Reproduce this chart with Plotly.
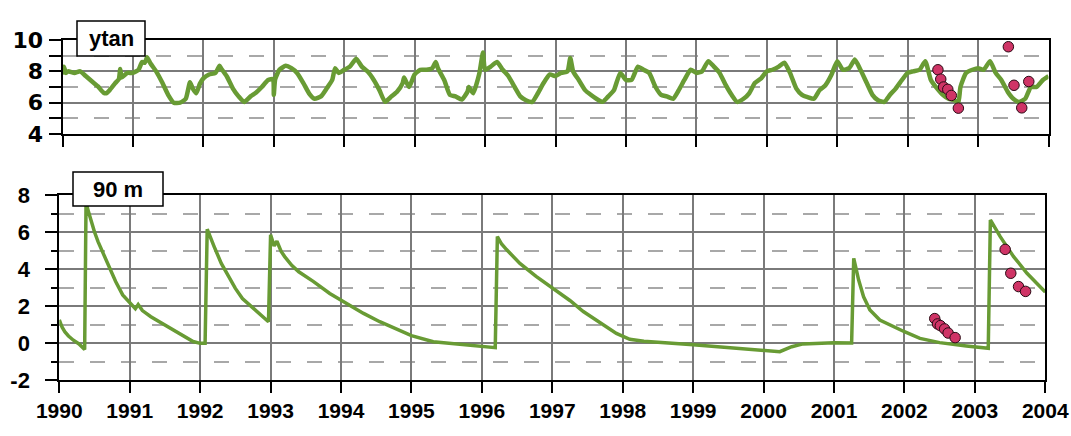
import plotly.graph_objects as go

# ---------------- data ----------------
years = [1990, 1991, 1992, 1993, 1994, 1995, 1996, 1997, 1998, 1999, 2000, 2001, 2002, 2003, 2004]
year_labels = [str(y) for y in years]

top_yticks = [4, 6, 8, 10]
top_ytext = ["4", "6", "8", "10"]
bot_yticks = [-2, 0, 2, 4, 6, 8]
bot_ytext = ["-2", "0", "2", "4", "6", "8"]

ytan_time = [
    1990.00, 1990.02, 1990.05, 1990.08, 1990.17, 1990.25, 1990.33, 1990.42, 1990.50, 1990.58,
    1990.62, 1990.67, 1990.75, 1990.80, 1990.82, 1990.84, 1990.92, 1991.00, 1991.08, 1991.13,
    1991.17, 1991.20, 1991.25, 1991.33, 1991.42, 1991.50, 1991.58, 1991.67, 1991.75, 1991.81,
    1991.85, 1991.90, 1991.95, 1992.00, 1992.08, 1992.17, 1992.23, 1992.25, 1992.33, 1992.42,
    1992.50, 1992.58, 1992.67, 1992.75, 1992.83, 1992.92, 1992.99, 1993.00, 1993.02, 1993.08,
    1993.17, 1993.25, 1993.33, 1993.42, 1993.50, 1993.58, 1993.67, 1993.75, 1993.83, 1993.87,
    1993.92, 1994.00, 1994.08, 1994.17, 1994.25, 1994.33, 1994.42, 1994.50, 1994.58, 1994.67,
    1994.75, 1994.83, 1994.85, 1994.92, 1995.00, 1995.08, 1995.17, 1995.25, 1995.30, 1995.33,
    1995.42, 1995.50, 1995.58, 1995.67, 1995.75, 1995.77, 1995.83, 1995.92, 1995.97, 1996.00,
    1996.08, 1996.17, 1996.25, 1996.33, 1996.42, 1996.50, 1996.58, 1996.67, 1996.75, 1996.83,
    1996.92, 1997.00, 1997.08, 1997.17, 1997.21, 1997.25, 1997.33, 1997.42, 1997.50, 1997.58,
    1997.67, 1997.75, 1997.83, 1997.92, 1998.00, 1998.08, 1998.17, 1998.25, 1998.33, 1998.42,
    1998.50, 1998.58, 1998.67, 1998.75, 1998.83, 1998.92, 1999.00, 1999.08, 1999.17, 1999.25,
    1999.33, 1999.42, 1999.50, 1999.58, 1999.67, 1999.75, 1999.83, 1999.92, 2000.00, 2000.08,
    2000.17, 2000.25, 2000.33, 2000.42, 2000.50, 2000.58, 2000.67, 2000.75, 2000.83, 2000.92,
    2001.00, 2001.08, 2001.17, 2001.25, 2001.33, 2001.42, 2001.50, 2001.58, 2001.67, 2001.75,
    2001.83, 2001.92, 2002.00, 2002.08, 2002.17, 2002.25, 2002.33, 2002.42, 2002.50, 2002.58,
    2002.67, 2002.72, 2002.75, 2002.83, 2002.92, 2003.00, 2003.08, 2003.17, 2003.25, 2003.33,
    2003.42, 2003.50, 2003.58, 2003.67, 2003.75, 2003.83, 2003.92, 2004.00,
]
ytan_value = [
    7.8, 8.3, 7.9, 8.0, 7.9, 8.0, 7.7, 7.35, 7.05, 6.65,
    6.6, 6.8, 7.25, 7.5, 8.15, 7.6, 7.9, 7.9, 8.1, 8.6,
    8.55, 8.9, 8.5, 8.0, 7.25, 6.5, 6.0, 6.0, 6.25, 7.3,
    6.9, 6.6, 7.2, 7.55, 7.8, 7.9, 8.35, 8.2, 7.7, 6.9,
    6.4, 6.05, 6.4, 6.65, 7.0, 7.45, 7.5, 6.5, 7.5, 8.1,
    8.35, 8.2, 7.9, 7.25, 6.6, 6.25, 6.4, 6.9, 7.45, 8.2,
    7.9, 8.1, 8.3, 8.8, 8.3, 8.0, 7.45, 6.8, 6.05, 6.4,
    6.7, 7.25, 7.6, 7.0, 7.8, 8.1, 8.1, 8.2, 8.6, 8.2,
    7.45, 6.5, 6.4, 6.2, 6.7, 7.0, 6.6, 7.9, 9.2, 8.1,
    8.3, 8.6, 8.1, 7.7, 7.0, 6.4, 6.15, 6.05, 6.6, 7.25,
    7.8, 7.7, 7.9, 8.0, 8.85, 8.0, 7.45, 6.8, 6.5, 6.25,
    6.05, 6.4, 6.8, 7.9, 7.45, 7.45, 8.3, 8.1, 7.9, 7.0,
    6.5, 6.4, 6.25, 6.8, 7.45, 8.1, 7.9, 8.0, 8.65, 8.3,
    7.9, 7.1, 6.5, 6.05, 6.25, 6.6, 7.25, 7.55, 8.0, 8.1,
    8.3, 8.55, 7.9, 6.9, 6.5, 6.35, 6.25, 6.8, 7.1, 7.8,
    8.65, 8.1, 8.2, 8.75, 8.1, 7.25, 6.5, 6.15, 6.05, 6.5,
    6.9, 7.45, 7.9, 8.0, 8.1, 8.65, 7.45, 6.9, 6.5, 6.25,
    6.15, 6.0, 7.0, 7.9, 8.1, 8.2, 8.1, 8.65, 7.9, 7.45,
    6.7, 6.25, 6.05, 6.25, 7.0, 7.0, 7.45, 7.7,
]

m90_time = [
    1990.00, 1990.04, 1990.08, 1990.13, 1990.20, 1990.28, 1990.36, 1990.38, 1990.40, 1990.44,
    1990.50, 1990.55, 1990.60, 1990.70, 1990.80, 1990.90, 1991.00, 1991.08, 1991.12, 1991.18,
    1991.30, 1991.50, 1991.70, 1991.80, 1991.90, 1992.00, 1992.07, 1992.10, 1992.15, 1992.20,
    1992.30, 1992.40, 1992.50, 1992.60, 1992.70, 1992.80, 1992.90, 1992.97, 1993.00, 1993.05,
    1993.09, 1993.15, 1993.20, 1993.30, 1993.40, 1993.61, 1993.84, 1994.00, 1994.32, 1994.55,
    1994.79, 1995.00, 1995.31, 1995.74, 1996.19, 1996.22, 1996.28, 1996.35, 1996.54, 1996.77,
    1997.00, 1997.25, 1997.44, 1997.70, 1997.91, 1998.10, 1998.30, 1999.00, 1999.57, 2000.10,
    2000.23, 2000.40, 2000.56, 2001.00, 2001.25, 2001.28, 2001.32, 2001.35, 2001.42, 2001.51,
    2001.65, 2001.84, 2002.00, 2002.22, 2002.50, 2002.88, 2003.19, 2003.22, 2003.29, 2003.36,
    2003.55, 2003.74, 2004.00,
]
m90_value = [
    1.25, 0.85, 0.6, 0.38, 0.15, -0.05, -0.35, 7.7, 7.28, 6.74,
    6.0, 5.48, 5.03, 4.13, 3.32, 2.6, 2.15, 1.85, 2.08, 1.75,
    1.42, 0.97, 0.52, 0.3, 0.08, -0.02, -0.02, 6.15, 5.65, 5.2,
    4.3, 3.6, 2.95, 2.4, 2.05, 1.7, 1.4, 1.15, 5.85, 5.25,
    5.5, 4.95, 4.67, 4.2, 3.85, 3.32, 2.68, 2.32, 1.6, 1.15,
    0.74, 0.4, 0.07, -0.1, -0.25, 5.75, 5.35, 5.05, 4.3, 3.6,
    2.96, 2.3, 1.7, 1.05, 0.52, 0.2, 0.1, -0.1, -0.29, -0.42,
    -0.47, -0.2, -0.05, 0.02, 0.0, 4.58, 3.85, 3.4, 2.5, 1.78,
    1.24, 0.88, 0.61, 0.25, 0.02, -0.16, -0.29, 6.65, 6.2, 5.75,
    4.67, 3.77, 2.75,
]

obs_time = [2002.43, 2002.47, 2002.51, 2002.57, 2002.62, 2002.72, 2003.43, 2003.51, 2003.62, 2003.72]
obs_ytan = [8.1, 7.5, 7.0, 6.85, 6.46, 5.65, 9.57, 7.11, 5.67, 7.35]
obs_90m = [1.32, 1.03, 0.94, 0.76, 0.54, 0.29, 5.06, 3.77, 3.05, 2.79]

panel_labels = ["ytan", "90 m"]

# ---------------- style ----------------
W, H = 1071, 436
GREEN = "#689b34"
DOT = "#cf3466"
FONT = "Liberation Sans, Arial, sans-serif"
WIDE = "DejaVu Sans, Liberation Sans, sans-serif"


def px(x):
    return x / W


def py(y):
    return 1 - y / H


fig = go.Figure()

fig.add_trace(go.Scatter(x=ytan_time, y=ytan_value, mode="lines",
                         line=dict(color=GREEN, width=4.5, shape="spline", smoothing=0.5),
                         xaxis="x", yaxis="y", showlegend=False, hoverinfo="skip"))
fig.add_trace(go.Scatter(x=obs_time, y=obs_ytan, mode="markers",
                         marker=dict(color=DOT, size=10.5, line=dict(color="#2a0a14", width=1)),
                         xaxis="x", yaxis="y", showlegend=False))
fig.add_trace(go.Scatter(x=m90_time, y=m90_value, mode="lines",
                         line=dict(color=GREEN, width=3.5), xaxis="x2", yaxis="y2",
                         showlegend=False, hoverinfo="skip"))
fig.add_trace(go.Scatter(x=obs_time, y=obs_90m, mode="markers",
                         marker=dict(color=DOT, size=10.5, line=dict(color="#2a0a14", width=1)),
                         xaxis="x2", yaxis="y2", showlegend=False))

grid_major = dict(showgrid=True, gridcolor="#7a7a7a", gridwidth=1.5)
axis_line = dict(showline=True, linecolor="black", linewidth=2, mirror=True,
                 ticks="outside", tickcolor="black", tickwidth=2, zeroline=False,
                 automargin=False)

xcommon = dict(range=[1990, 2004], tickvals=years, ticktext=year_labels, ticklen=11,
               **grid_major, **axis_line)

fig.update_layout(
    width=W, height=H,
    margin=dict(l=0, r=0, t=0, b=0, autoexpand=False),
    paper_bgcolor="white", plot_bgcolor="white",
    font=dict(family=FONT, color="black"),
    xaxis=dict(domain=[px(62.5), px(1048.5)], anchor="y", showticklabels=False, **xcommon),
    xaxis2=dict(domain=[px(59.3), px(1045.3)], anchor="y2", showticklabels=True,
                tickfont=dict(size=21, weight="bold", family=FONT), **xcommon),
    yaxis=dict(domain=[py(134), py(40)], anchor="x", range=[4, 10],
               tickvals=top_yticks, ticktext=top_ytext, ticklen=12,
               ticklabelstandoff=1,
               tickfont=dict(size=22, weight="bold", family=WIDE),
               minor=dict(dtick=1, tick0=4, showgrid=True, gridcolor="#a8a8a8", gridwidth=2,
                          griddash="15px,16px", ticks="outside", ticklen=12,
                          tickcolor="black", tickwidth=2),
               **grid_major, **axis_line),
    yaxis2=dict(domain=[py(380), py(195)], anchor="x2", range=[-2, 8],
                tickvals=bot_yticks, ticktext=bot_ytext, ticklen=12,
                ticklabelstandoff=11,
                tickfont=dict(size=22, weight="bold", family=FONT),
                minor=dict(dtick=1, tick0=-2, showgrid=True, gridcolor="#a8a8a8", gridwidth=2,
                           griddash="15px,16px", ticks="outside", ticklen=6,
                           tickcolor="black", tickwidth=2),
                **grid_major, **axis_line),
)

# label boxes
boxes = [(77, 145, 21, 56), (73, 163, 172, 206)]
for label, (x0, x1, y0, y1) in zip(panel_labels, boxes):
    fig.add_shape(type="rect", xref="paper", yref="paper",
                  x0=px(x0), x1=px(x1), y0=py(y1), y1=py(y0),
                  fillcolor="white", line=dict(color="black", width=1.5), layer="above")
    fig.add_annotation(text=label, xref="paper", yref="paper",
                       x=px((x0 + x1) / 2), y=py((y0 + y1) / 2),
                       xanchor="center", yanchor="middle", showarrow=False,
                       font=dict(size=22, weight="bold", family=FONT, color="black"))

fig.write_html("out.html")
